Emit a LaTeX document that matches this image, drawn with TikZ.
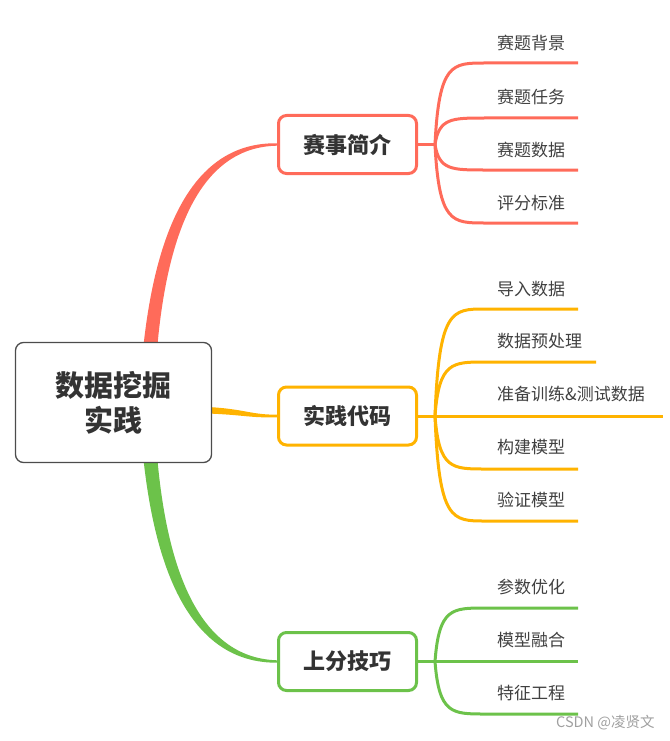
\documentclass[tikz,border=0pt]{standalone}
\usepackage{fontspec}
\setmainfont{Noto Sans CJK SC}
\usetikzlibrary{backgrounds}
\definecolor{cR}{HTML}{FF6B5A}
\definecolor{cO}{HTML}{FFB300}
\definecolor{cG}{HTML}{6CC24A}
\definecolor{txt}{HTML}{333333}
\definecolor{lab}{HTML}{404040}
\definecolor{wm}{HTML}{A0A0A0}
\begin{document}
\begin{tikzpicture}[x=1pt,y=-1pt,
  rootbox/.style={draw=black!70, line width=1.3pt, rounded corners=8pt, fill=white,
    minimum width=196pt, minimum height=120pt, align=center, text=txt,
    font=\bfseries\fontsize{29}{35}\selectfont},
  topic/.style={draw, line width=3pt, rounded corners=8pt, fill=white,
    minimum width=138pt, minimum height=58pt, text=txt,
    font=\bfseries\fontsize{22}{26}\selectfont},
  sub/.style={line width=3pt},
  leaf/.style={anchor=west, inner sep=0pt, text=lab, font=\fontsize{17}{20}\selectfont}]
\useasboundingbox (0,0) rectangle (669,741);

\node[rootbox] (root) at (113.5,402.5) {数据挖掘\\实践};
\node[topic, draw=cR] (red) at (347.5,144.5) {赛事简介};
\node[topic, draw=cO] (orange) at (347.5,416) {实践代码};
\node[topic, draw=cG] (green) at (347.5,661.5) {上分技巧};

% leaf labels
\node[leaf] (r1) at (497,43) {赛题背景};
\node[leaf] (r2) at (497,97) {赛题任务};
\node[leaf] (r3) at (497,150) {赛题数据};
\node[leaf] (r4) at (497,203) {评分标准};
\node[leaf] (o1) at (497,289) {导入数据};
\node[leaf] (o2) at (497,341) {数据预处理};
\node[leaf] (o3) at (497,394) {准备训练\&测试数据};
\node[leaf] (o4) at (497,447) {构建模型};
\node[leaf] (o5) at (497,500) {验证模型};
\node[leaf] (g1) at (497,587) {参数优化};
\node[leaf] (g2) at (497,640) {模型融合};
\node[leaf] (g3) at (497,693) {特征工程};

\node[anchor=west, inner sep=0pt, text=wm, font=\fontsize{14.5}{16}\selectfont] (wmk) at (556,723) {CSDN @凌贤文};

\begin{scope}[on background layer]
% main tapered branches
\fill[cR] (143,350) .. controls (157,215) and (200,142) .. ([yshift=1.2pt]red.west)
  -- ++(0,2.4) .. controls (205,147) and (168,222) .. (157,350) -- cycle;
\fill[cO] (208,407) .. controls (245,409) and (250,414.7) .. ([yshift=1.3pt]orange.west)
  -- ++(0,2.6) .. controls (250,418) and (245,415) .. (208,413.5) -- cycle;
\fill[cG] (143,455) .. controls (157,590) and (200,663) .. ([yshift=-1.2pt]green.west)
  -- ++(0,-2.4) .. controls (205,658) and (168,583) .. (157,455) -- cycle;

% red sub-branches
\draw[sub, cR] (red.east) -- (435,144.5) coordinate (jR);
\foreach \y in {63,118,170,223}
  \draw[sub, cR] (jR) .. controls (439,\y) and (452,\y) .. (485,\y) -- (578,\y);

% orange sub-branches
\draw[sub, cO] (orange.east) -- (435,416) coordinate (jO);
\foreach \y/\e in {309/578,362/596,469/578,521/578}
  \draw[sub, cO] (jO) .. controls (439,\y) and (452,\y) .. (485,\y) -- (\e,\y);
\draw[sub, cO] (jO) -- (663,416);

% green sub-branches
\draw[sub, cG] (green.east) -- (435,661.5) coordinate (jG);
\foreach \y in {608,714}
  \draw[sub, cG] (jG) .. controls (439,\y) and (452,\y) .. (485,\y) -- (578,\y);
\draw[sub, cG] (jG) -- (578,661.5);
\end{scope}
\end{tikzpicture}
\end{document}
